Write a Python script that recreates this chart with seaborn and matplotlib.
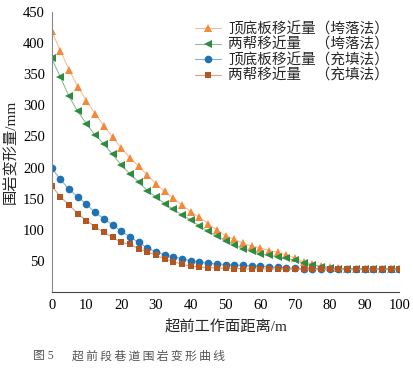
import matplotlib as mpl
mpl.use('agg')
import matplotlib.pyplot as plt
import seaborn as sns
from matplotlib.colors import to_rgb

# data
dist = [0, 2.5, 5, 7.5, 10, 12.5, 15, 17.5, 20, 22.5, 25, 27.5, 30, 32.5, 35, 37.5, 40,
        42.5, 45, 47.5, 50, 52.5, 55, 57.5, 60, 62.5, 65, 67.5, 70, 72.5, 75, 77.5, 80,
        82.5, 85, 87.5, 90, 92.5, 95, 97.5, 100]
roof_caving = [419, 387, 357, 330, 307, 286, 267, 249, 231, 216, 202, 188, 174, 162, 151, 140, 129,
               120, 110, 100, 91, 85, 79, 74, 71, 67, 64, 60, 55, 49, 45, 42, 40,
               38.5, 38, 37.5, 37.5, 37, 37, 37, 37]
side_caving = [375, 345, 314, 290, 270, 252, 238, 221, 204, 190, 177, 163, 153, 142, 133, 124, 116,
               106, 98, 90, 83, 76, 70, 66, 62, 59, 57, 55, 51, 47, 44, 41, 39,
               38, 37.5, 37, 37, 37, 37, 37, 37]
roof_filling = [199, 181, 165, 153, 141, 128, 118, 108, 98, 89, 80, 71, 65, 60, 57, 54, 50,
                49, 46.5, 45.5, 44.5, 44, 43, 42, 42, 41, 40, 39, 38.5, 38, 38, 38, 37.5,
                37.5, 37.5, 37.5, 37.5, 37.5, 37.5, 37.5, 37.5]
side_filling = [171, 153, 140, 126, 115, 105, 96, 88, 80, 77, 70, 65, 59, 54, 49, 45, 42,
                40.5, 39.5, 39, 38.5, 38, 38, 37.5, 37.5, 37.5, 37.5, 37.5, 37, 37, 37, 37, 37,
                37, 37, 37, 37, 37, 37, 37, 37]

labels = ['顶底板移近量（垮落法）', '两帮移近量\u3000（垮落法）',
          '顶底板移近量（充填法）', '两帮移近量\u3000（充填法）']
series = [roof_caving, side_caving, roof_filling, side_filling]
colors = ['#f28a3c', '#2e8b3f', '#1f72b4', '#b4561f']
markers = ['^', '<', 'o', 's']
msizes = [5.5, 5.5, 5.5, 4.8]

sns.set_style('white')
plt.rcParams['font.family'] = ['Liberation Serif', 'Noto Sans CJK SC', 'DejaVu Sans']


def lighten(c, f):
    r, g, b = to_rgb(c)
    return (r + (1 - r) * f, g + (1 - g) * f, b + (1 - b) * f)


fig = plt.figure(figsize=(4.14, 3.77), dpi=100)
ax = fig.add_axes([0.1249, 0.2247, 0.8396, 0.7443])

for y, lab, c, m, ms in zip(series, labels, colors, markers, msizes):
    sns.lineplot(x=dist, y=y, ax=ax, color=lighten(c, 0.45), linewidth=0.8,
                 marker=m, markersize=ms, markerfacecolor=c, markeredgecolor=c,
                 markeredgewidth=0, label=lab)

ax.set_xlim(0, 100)
ax.set_ylim(0, 450)
ax.set_xticks(range(0, 101, 10))
ax.set_yticks(range(50, 451, 50))
ax.tick_params(direction='in', length=4, width=0.8, colors='#666', labelcolor='black',
               labelsize=10.5, pad=5)
for s in ['top', 'right']:
    ax.spines[s].set_visible(False)
ax.spines['left'].set_color('#888')
ax.spines['bottom'].set_color('#444')

ax.set_xlabel('超前工作面距离/m', fontsize=11, labelpad=5)
ax.set_ylabel('围岩变形量/mm', fontsize=11, labelpad=4)

leg = ax.legend(loc='upper right', bbox_to_anchor=(1.0, 1.0), frameon=False, fontsize=10.5,
                labelspacing=0.08, handlelength=1.8, handletextpad=0.5, borderaxespad=0.3)

fig.text(0.08, 0.056, '图 5', fontsize=8.5, color='#555', va='center')
fig.text(0.175, 0.056, '\u2009'.join('超前段巷道围岩变形曲线'), fontsize=8.5, color='#555',
         va='center', family=['Noto Sans CJK SC', 'DejaVu Sans'])

plt.savefig('out.png', dpi=100)
